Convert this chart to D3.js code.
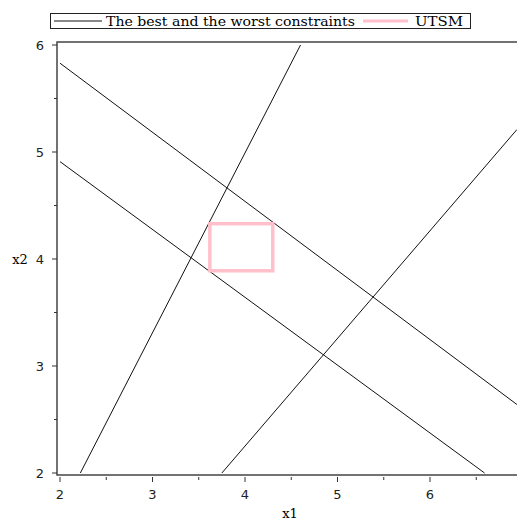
<!DOCTYPE html>
<html><head><meta charset="utf-8">
<script src="https://cdn.jsdelivr.net/npm/d3@7"></script>
<style>body{margin:0;background:#fff;} svg{display:block;}</style>
</head><body>
<svg id="c" width="517" height="523"></svg>
<script>
// Data
const constraintLines = [
  [[2.22, 2.0], [4.60, 6.0]],
  [[2.0, 5.83], [6.94, 2.64]],
  [[2.0, 4.91], [6.59, 2.0]],
  [[3.75, 2.0], [6.94, 5.21]]
];
const utsmRect = {x0: 3.62, x1: 4.30, y0: 3.89, y1: 4.33};
const xTicks = [2, 3, 4, 5, 6, 7];
const xTickLabels = [2, 3, 4, 5, 6];
const xMinor = [2.5, 3.5, 4.5, 5.5, 6.5];
const yTicks = [2, 3, 4, 5, 6];
const yMinor = [2.5, 3.5, 4.5, 5.5];
const legendLabels = ["The best and the worst constraints", "UTSM"];

const svg = d3.select("#c");
const x = d3.scaleLinear().domain([2, 7]).range([60, 522.5]);
const y = d3.scaleLinear().domain([2, 6]).range([473, 45]);

const frame = {l: 57, t: 42, r: 526, b: 475};
// frame
svg.append("path")
  .attr("d", `M${frame.r},${frame.t}H${frame.l}V${frame.b}H${frame.r}`)
  .attr("fill", "none").attr("stroke", "#444").attr("stroke-width", 1.5);

// x axis ticks
const gx = svg.append("g");
gx.selectAll("line.maj").data(xTicks).join("line")
  .attr("x1", d => x(d)).attr("x2", d => x(d))
  .attr("y1", frame.b + 2).attr("y2", frame.b + 7)
  .attr("stroke", "#333");
gx.selectAll("line.min").data(xMinor).join("line")
  .attr("x1", d => x(d)).attr("x2", d => x(d))
  .attr("y1", frame.b + 2).attr("y2", frame.b + 5)
  .attr("stroke", "#333");
gx.selectAll("text").data(xTickLabels).join("text")
  .attr("x", d => x(d)).attr("y", 499)
  .attr("text-anchor", "middle")
  .attr("font-family", "DejaVu Sans, sans-serif").attr("font-size", 13)
  .attr("fill", "#222").text(d => d);

// y axis ticks
const gy = svg.append("g");
gy.selectAll("line.maj").data(yTicks).join("line")
  .attr("x1", frame.l - 5).attr("x2", frame.l)
  .attr("y1", d => y(d)).attr("y2", d => y(d))
  .attr("stroke", "#333");
gy.selectAll("line.min").data(yMinor).join("line")
  .attr("x1", frame.l - 3).attr("x2", frame.l)
  .attr("y1", d => y(d)).attr("y2", d => y(d))
  .attr("stroke", "#333");
gy.selectAll("text").data(yTicks).join("text")
  .attr("x", 44).attr("y", d => y(d) + 5)
  .attr("text-anchor", "end")
  .attr("font-family", "DejaVu Sans, sans-serif").attr("font-size", 13)
  .attr("fill", "#222").text(d => d);

// axis titles
svg.append("text").attr("x", 290).attr("y", 518).attr("text-anchor", "middle")
  .attr("font-family", "DejaVu Serif, serif").attr("font-size", 13).text("x1");
svg.append("text").attr("x", 20).attr("y", 264).attr("text-anchor", "middle")
  .attr("font-family", "DejaVu Serif, serif").attr("font-size", 13).text("x2");

// clip for plot
svg.append("clipPath").attr("id", "clip").append("rect")
  .attr("x", frame.l).attr("y", frame.t).attr("width", frame.r - frame.l).attr("height", frame.b - frame.t);

const line = d3.line().x(d => x(d[0])).y(d => y(d[1]));
svg.append("g").attr("clip-path", "url(#clip)")
  .selectAll("path").data(constraintLines).join("path")
  .attr("d", line).attr("fill", "none").attr("stroke", "#111").attr("stroke-width", 1);

// UTSM rectangle
svg.append("rect")
  .attr("x", x(utsmRect.x0)).attr("y", y(utsmRect.y1))
  .attr("width", x(utsmRect.x1) - x(utsmRect.x0))
  .attr("height", y(utsmRect.y0) - y(utsmRect.y1))
  .attr("fill", "none").attr("stroke", "#ffc0cb").attr("stroke-width", 3.5);

// legend
const lg = svg.append("g");
lg.append("rect").attr("x", 50.5).attr("y", 13.5).attr("width", 420).attr("height", 15)
  .attr("fill", "#fff").attr("stroke", "#222").attr("stroke-width", 1);
lg.append("line").attr("x1", 54).attr("x2", 102).attr("y1", 21).attr("y2", 21)
  .attr("stroke", "#111").attr("stroke-width", 1);
lg.append("text").attr("x", 106).attr("y", 25.5)
  .attr("font-family", "DejaVu Serif, serif").attr("font-size", 13)
  .attr("textLength", 249).attr("lengthAdjust", "spacingAndGlyphs").text(legendLabels[0]);
lg.append("line").attr("x1", 363).attr("x2", 408).attr("y1", 21).attr("y2", 21)
  .attr("stroke", "#ffc0cb").attr("stroke-width", 3);
lg.append("text").attr("x", 415).attr("y", 25.5)
  .attr("font-family", "DejaVu Serif, serif").attr("font-size", 13)
  .attr("textLength", 48).attr("lengthAdjust", "spacingAndGlyphs").text(legendLabels[1]);
</script>
</body></html>
